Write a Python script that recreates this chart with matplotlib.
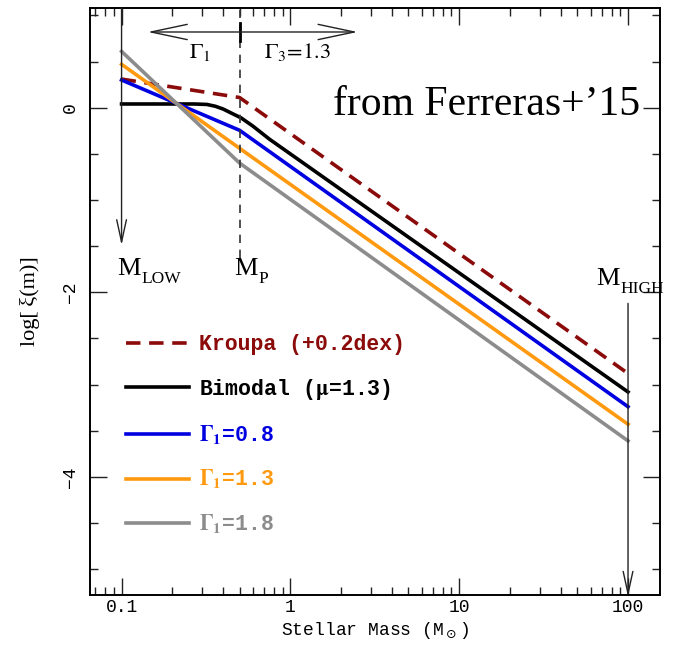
import numpy as np
import matplotlib.pyplot as plt
from matplotlib.ticker import FixedLocator, NullFormatter

# IMF curves: log xi(m) vs stellar mass
kroupa_m = [0.1, 0.5, 100]
kroupa_y = [0.31, 0.11, -2.88]

bimodal_m = [0.1, 0.27, 0.32, 0.36, 0.40, 0.46, 0.51, 0.60, 0.75, 100]
bimodal_y = [0.04, 0.04, 0.035, 0.015, -0.015, -0.07, -0.11, -0.20, -0.34, -3.08]

g08_m = [0.1, 0.5, 100]
g08_y = [0.30, -0.245, -3.24]

g13_m = [0.1, 0.5, 100]
g13_y = [0.47, -0.44, -3.43]

g18_m = [0.1, 0.5, 100]
g18_y = [0.61, -0.60, -3.61]

labels = ['Kroupa (+0.2dex)', r'Bimodal ($\mathbf{\mu}$=1.3)',
          r'$\mathbf{\Gamma_1}$=0.8', r'$\mathbf{\Gamma_1}$=1.3', r'$\mathbf{\Gamma_1}$=1.8']
colors = ['#8b0a0a', 'black', '#0000e0', '#ff9a10', '#8c8c8c']

m_low, m_p, m_high = 0.1, 0.5, 100

fig = plt.figure(figsize=(6.75, 6.45), dpi=100)
ax = fig.add_axes([0.1333, 0.0775, 0.8447, 0.9101])

ax.plot(kroupa_m, kroupa_y, color=colors[0], lw=2.6, ls=(0, (4.0, 2.4)), label=labels[0])
ax.plot(bimodal_m, bimodal_y, color=colors[1], lw=2.6, label=labels[1])
ax.plot(g08_m, g08_y, color=colors[2], lw=2.6, label=labels[2])
ax.plot(g13_m, g13_y, color=colors[3], lw=2.6, label=labels[3])
ax.plot(g18_m, g18_y, color=colors[4], lw=2.6, label=labels[4])

ax.set_xscale('log')
ax.set_xlim(0.065, 155)
ax.set_ylim(-5.28, 1.08)

# arrows for the mass limits
arr = dict(arrowstyle='->,head_length=1.6,head_width=0.35', color='#222222', lw=1.0,
           shrinkA=0, shrinkB=0)
ax.annotate('', xy=(m_low, -1.49), xytext=(m_low, 1.08), arrowprops=arr)
ax.annotate('', xy=(m_high, -5.30), xytext=(m_high, -2.12), arrowprops=arr,
            annotation_clip=False)
ax.plot([m_p, m_p], [-1.63, 1.08], color='#333333', lw=1.2, ls=(0, (5, 4)))
ax.plot([m_p, m_p], [0.72, 0.92], color='black', lw=2.0)

# slope double arrow
arr2 = dict(arrowstyle='->,head_length=2.6,head_width=0.55', color='#222222', lw=1.0,
            shrinkA=0, shrinkB=0)
ax.annotate('', xy=(0.143, 0.82), xytext=(m_p, 0.82), arrowprops=arr2)
ax.annotate('', xy=(2.5, 0.82), xytext=(m_p, 0.82), arrowprops=arr2)

serif = 'Liberation Serif'
ax.text(0.29, 0.60, r'$\Gamma_1$', fontsize=16, ha='center', va='center',
        math_fontfamily='stix')
ax.text(1.1, 0.60, r'$\Gamma_3\!=\!1.3$', fontsize=16, ha='center', va='center',
        math_fontfamily='stix')


def mlabel(x, y, sub, dx):
    # "M" plus a lowered subscript, as in the original figure
    ax.text(x, y, 'M', fontsize=19, family=serif, ha='left', va='baseline')
    ax.annotate(sub, xy=(x, y), xytext=(dx, -6), textcoords='offset points',
                fontsize=12.5, family=serif, ha='left', va='baseline',
                annotation_clip=False)


mlabel(0.094, -1.81, 'LOW', 17.5)
mlabel(0.467, -1.81, 'P', 17.5)
mlabel(65.0, -1.92, 'HIGH', 17.0)

ax.text(0.426, 0.835, 'from Ferreras+\u201915', fontsize=30, family=serif,
        transform=ax.transAxes, ha='left', va='center')

leg = ax.legend(loc='upper left', bbox_to_anchor=(0.044, 0.4625), frameon=False,
                handlelength=2.95, handletextpad=0.45, labelspacing=1.0,
                prop={'family': 'Liberation Mono', 'weight': 'bold', 'size': 15.5,
                      'math_fontfamily': 'stix'},
                labelcolor='linecolor', borderpad=0)

# ticks
ax.xaxis.set_major_locator(FixedLocator([0.1, 1, 10, 100]))
minor = [k * 10.0 ** e for e in range(-2, 3) for k in range(2, 10)]
ax.xaxis.set_minor_locator(FixedLocator(minor))
ax.xaxis.set_minor_formatter(NullFormatter())
ax.set_xticklabels(['0.1', '1', '10', '100'])
ax.yaxis.set_major_locator(FixedLocator([-4, -2, 0]))
ax.yaxis.set_minor_locator(FixedLocator(np.arange(-5.0, 1.01, 0.5)))
ax.set_yticklabels(['\u22124', '\u22122', '0'], rotation=90, va='center')

ax.tick_params(which='both', direction='in', top=True, right=True, width=1.0, color='#222222')
ax.tick_params(which='major', length=12, labelsize=13)
ax.tick_params(which='minor', length=6)
ax.tick_params(axis='x', which='major', pad=3)
ax.tick_params(axis='y', which='major', pad=8)
for lab in ax.get_xticklabels() + ax.get_yticklabels():
    lab.set_family('Liberation Mono')

for s in ax.spines.values():
    s.set_linewidth(1.4)

ax.set_xlabel(r'Stellar Mass (M$_\odot$)', family='Liberation Mono', fontsize=13, labelpad=3)
ax.set_ylabel('log[\u2009\u03be(m)]', family=[serif, 'DejaVu Serif'], fontsize=16)
ax.yaxis.set_label_coords(-0.088, 0.5)

fig.savefig('out.png', dpi=100)
